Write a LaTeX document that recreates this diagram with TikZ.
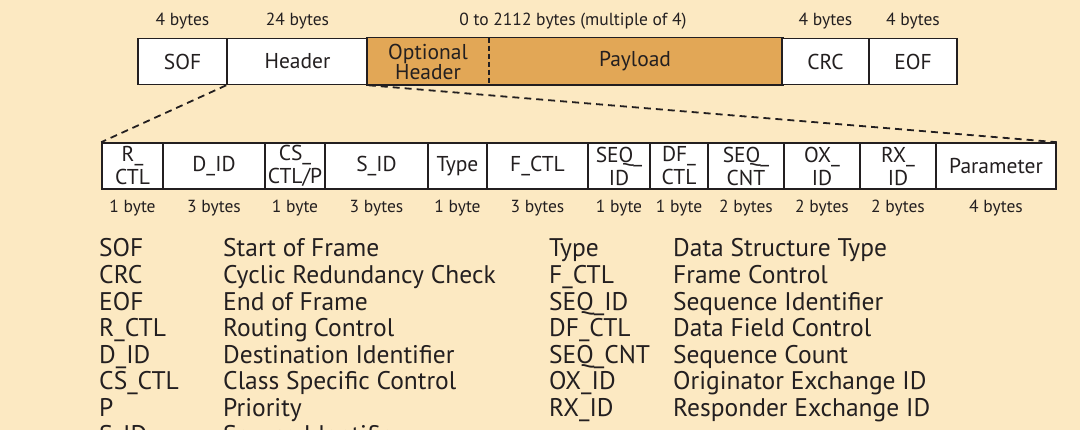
\documentclass[tikz,border=0pt]{standalone}
\usepackage{fontspec}
\setmainfont{PT Sans}
\definecolor{bg}{HTML}{FCE9C2}
\definecolor{pay}{HTML}{E2A756}
\definecolor{ink}{HTML}{231F20}
\begin{document}
\begin{tikzpicture}[x=1pt,y=-1pt,
  box/.style={draw=ink, line width=1.6pt, fill=white, minimum height=46pt, inner sep=0pt,
    align=center, text=ink, font=\fontsize{21.5}{23}\selectfont},
  obox/.style={box, draw=none, fill=pay},
  size/.style={text=ink, font=\fontsize{17.5}{19}\selectfont, inner sep=0pt},
  leg/.style={text=ink, font=\fontsize{25.5}{27}\selectfont, inner sep=0pt, anchor=base west},
  dashline/.style={draw=ink, line width=1.8pt, dash pattern=on 7pt off 5pt}]
\useasboundingbox (0,0) rectangle (1080,430);
\fill[bg] (0,0) rectangle (1080,430);
% top frame
\node[box, minimum width=89pt] (sof) at (182.5,61.5) {SOF};
\node[box, minimum width=141pt] (header) at (297.5,61.5) {Header};
\node[obox, minimum width=120pt, font=\fontsize{21.5}{20}\selectfont] (opt) at (428,61.5) {Optional\\Header};
\node[obox, minimum width=294pt] (payload) at (635,61.5) {Payload};
\draw[ink, line width=1.6pt] (opt.north west) rectangle (payload.south east);
\draw[dashline, line width=1.6pt, dash pattern=on 5pt off 3pt] (opt.north east) -- (opt.south east);
\node[box, minimum width=87pt] (crc) at (825.5,61.5) {CRC};
\node[box, minimum width=88pt] (eof) at (913,61.5) {EOF};
% sizes
\node[size] (s1) at (sof.center |- 0,21) {4 bytes};
\node[size] (s2) at (header.center |- 0,21) {24 bytes};
\node[size] (s3) at (573,21) {0 to 2112 bytes (multiple of 4)};
\node[size] (s4) at (crc.center |- 0,21) {4 bytes};
\node[size] (s5) at (eof.center |- 0,21) {4 bytes};
% header fields
\foreach \n/\a/\b/\t/\s in {
  rctl/102/163/{R\_\\CTL}/1 byte,
  did/163/265/{D\_ID}/3 bytes,
  csctl/265/325/{CS\_\\CTL/P}/1 byte,
  sid/325/428/{S\_ID}/3 bytes,
  type/428/487/{Type}/1 byte,
  fctl/487/588/{F\_CTL}/3 bytes,
  seqid/588/650/{SEQ\_\\ID}/1 byte,
  dfctl/650/708/{DF\_\\CTL}/1 byte,
  seqcnt/708/784/{SEQ\_\\CNT}/2 bytes,
  oxid/784/860/{OX\_\\ID}/2 bytes,
  rxid/860/936/{RX\_\\ID}/2 bytes,
  param/936/1056/{Parameter}/4 bytes}{
  \node[box, minimum width=\b pt-\a pt] (\n) at ({(\a+\b)/2},166) {\t};
  \node[size] (\n-s) at ({(\a+\b)/2},208) {\s};
}
% zoom connectors
\draw[dashline] (header.south west) -- (rctl.north west);
\draw[dashline] (header.south east) -- (param.north east);
% legend
\foreach \i/\ab/\de in {0/SOF/Start of Frame, 1/CRC/Cyclic Redundancy Check, 2/EOF/End of Frame,
  3/R\_CTL/Routing Control, 4/D\_ID/Destination Identifier, 5/CS\_CTL/Class Specific Control,
  6/P/Priority, 7/S\_ID/Source Identifier}{
  \node[leg] (la\i) at (99,{257+26.6*\i}) {\ab};
  \node[leg] (ld\i) at (223,{257+26.6*\i}) {\de};
}
\foreach \i/\ab/\de in {0/Type/Data Structure Type, 1/F\_CTL/Frame Control, 2/SEQ\_ID/Sequence Identifier,
  3/DF\_CTL/Data Field Control, 4/SEQ\_CNT/Sequence Count, 5/OX\_ID/Originator Exchange ID,
  6/RX\_ID/Responder Exchange ID}{
  \node[leg] (ra\i) at (549,{257+26.6*\i}) {\ab};
  \node[leg] (rd\i) at (673,{257+26.6*\i}) {\de};
}
\end{tikzpicture}
\end{document}
